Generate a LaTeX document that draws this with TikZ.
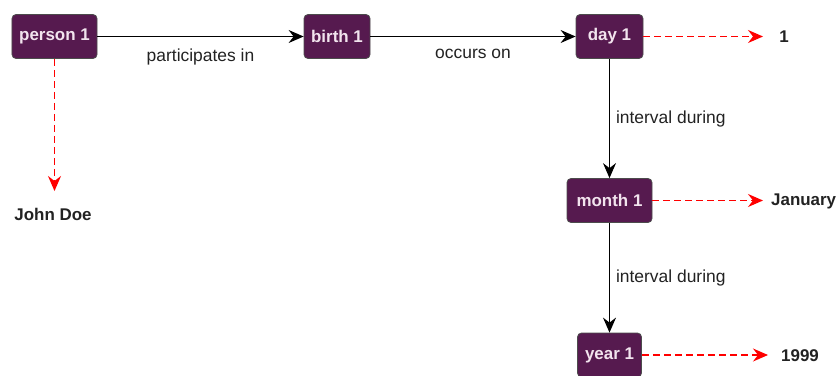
\documentclass[tikz,border=0pt]{standalone}
\usepackage{fontspec}
\setmainfont{Liberation Sans}
\usetikzlibrary{arrows.meta}
\definecolor{nodefill}{HTML}{561A4F}
\definecolor{nodetext}{HTML}{F2E4EE}
\definecolor{lbl}{HTML}{222222}
\tikzset{
  ent/.style={draw=black!70, fill=nodefill, rounded corners=4bp, line width=0.8bp,
    text=nodetext, font=\fontsize{17}{19}\selectfont\bfseries,
    minimum height=44bp, inner sep=0pt, anchor=center},
  val/.style={text=lbl, font=\fontsize{17}{19}\selectfont\bfseries, inner sep=0pt},
  rel/.style={draw=black, line width=1.1bp, -{Stealth[length=15bp,width=13bp,inset=5bp]}},
  attr/.style={draw=red, line width=1.3bp, dash pattern=on 7bp off 4bp,
    -{Stealth[length=15bp,width=13bp,inset=5bp]}},
  elab/.style={text=lbl, font=\fontsize{17.5}{19}\selectfont, inner sep=0pt}
}
\begin{document}
\begin{tikzpicture}[x=1bp,y=-1bp]
\useasboundingbox (0,0) rectangle (838,375);
\node[ent, minimum width=85bp] (p) at (54.5,36.5) {person 1};
\node[ent, minimum width=66bp] (b) at (337,36.5) {birth 1};
\node[ent, minimum width=67bp] (d) at (609.5,36.5) {day 1};
\node[ent, minimum width=85bp] (m) at (609.5,200.5) {month 1};
\node[ent, minimum width=64bp] (y) at (609.5,355) {year 1};
\node[val] (jd) at (53,214) {John Doe};
\node[val] (v1) at (784,37) {1};
\node[val, anchor=west] (vj) at (771,201) {January};
\node[val, anchor=west] (vy) at (781,356) {1999};
\coordinate (jdt) at (54.5,191);
\coordinate (v1t) at (763,36.5);
\coordinate (vjt) at (763,200.5);
\coordinate (vyt) at (768,355);
\draw[rel] (p) -- node[elab, below=12bp] {participates in} (b);
\draw[rel] (b) -- node[elab, below=12bp] {occurs on} (d);
\draw[rel] (d) -- node[elab, right=6bp] {interval during} (m);
\draw[rel] (m) -- node[elab, right=6bp] {interval during} (y);
\draw[attr] (p) -- (jdt);
\draw[attr] (d) -- (v1t);
\draw[attr] (m) -- (vjt);
\draw[attr] (y) -- (vyt);
\end{tikzpicture}
\end{document}
